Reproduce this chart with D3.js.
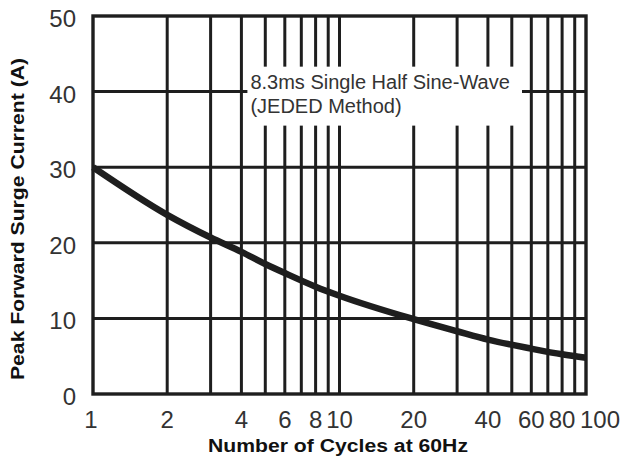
<!DOCTYPE html>
<html>
<head>
<meta charset="utf-8">
<script src="https://cdn.jsdelivr.net/npm/d3@7"></script>
<style>
  body { margin: 0; background: #fff; }
  text { font-family: "Liberation Sans", Arial, sans-serif; }
</style>
</head>
<body>
<div id="chart-area"></div>
<script>
// Data
var cycles  = [1, 2, 3, 4, 5, 6, 8, 10, 20, 30, 40, 60, 80, 100];
var current = [30, 23.7, 20.7, 18.8, 17.2, 16.0, 14.2, 13.0, 9.9, 8.3, 7.2, 6.0, 5.25, 4.8];
var xTickLabels = [1, 2, 4, 6, 8, 10, 20, 40, 60, 80, 100];
var yTickLabels = [0, 10, 20, 30, 40, 50];
var xGrid = [2, 3, 4, 5, 6, 7, 8, 9, 10, 20, 30, 40, 50, 60, 70, 80, 90];

var margin = { left: 93, right: 39, top: 16, bottom: 65 };
var width = 625 - margin.left - margin.right,
    height = 459 - margin.top - margin.bottom;

var svg = d3.select("#chart-area")
    .append("svg")
        .attr("width", 625)
        .attr("height", 459);

var g = svg.append("g")
    .attr("transform", "translate(" + margin.left + "," + margin.top + ")");

// X Scale (log)
var x = d3.scaleLog()
    .domain([1, 100])
    .range([0, width]);

// Y Scale
var y = d3.scaleLinear()
    .domain([0, 50])
    .range([height, 0]);

var ink = "#1e1e1e";

// vertical grid
g.selectAll(".vgrid")
    .data(xGrid)
    .enter().append("line")
        .attr("class", "vgrid")
        .attr("x1", function(d){ return x(d); })
        .attr("x2", function(d){ return x(d); })
        .attr("y1", 0)
        .attr("y2", height)
        .attr("stroke", ink)
        .attr("stroke-width", 3);

// horizontal grid
g.selectAll(".hgrid")
    .data(yTickLabels.slice(1, -1))
    .enter().append("line")
        .attr("class", "hgrid")
        .attr("x1", 0)
        .attr("x2", width)
        .attr("y1", function(d){ return y(d); })
        .attr("y2", function(d){ return y(d); })
        .attr("stroke", ink)
        .attr("stroke-width", 3);

// white box behind the note
g.append("rect")
    .attr("x", x(4) + 6)
    .attr("y", y(43.3))
    .attr("width", x(55) - x(4) - 6)
    .attr("height", y(35.5) - y(43.3))
    .attr("fill", "#fff");

// border
g.append("rect")
    .attr("x", 0)
    .attr("y", 0)
    .attr("width", width)
    .attr("height", height)
    .attr("fill", "none")
    .attr("stroke", ink)
    .attr("stroke-width", 3.4);

// curve
var line = d3.line()
    .x(function(d, i){ return x(cycles[i]); })
    .y(function(d){ return y(d); })
    .curve(d3.curveMonotoneX);

g.append("path")
    .datum(current)
    .attr("d", line)
    .attr("fill", "none")
    .attr("stroke", ink)
    .attr("stroke-width", 6.5);

// note
var note = g.append("text")
    .attr("font-size", "20px")
    .attr("fill", "#333");
note.append("tspan").attr("x", x(4) + 9).attr("y", 73).text("8.3ms Single Half Sine-Wave");
note.append("tspan").attr("x", x(4) + 9).attr("y", 97).text("(JEDED Method)");

// Y tick labels
g.selectAll(".ylab")
    .data(yTickLabels)
    .enter().append("text")
        .attr("class", "ylab")
        .attr("x", -17)
        .attr("y", function(d){ return y(d) + 11; })
        .attr("text-anchor", "end")
        .attr("font-size", "24px")
        .attr("fill", "#333")
        .text(function(d){ return d; });

// X tick labels
g.selectAll(".xlab")
    .data(xTickLabels)
    .enter().append("text")
        .attr("class", "xlab")
        .attr("x", function(d){ return x(d); })
        .attr("dx", function(d){ return d === 100 ? 14 : (d === 1 ? -2 : 0); })
        .attr("y", height + 34)
        .attr("text-anchor", "middle")
        .attr("font-size", "24px")
        .attr("fill", "#333")
        .text(function(d){ return d; });

// X Label
g.append("text")
    .attr("x", 338 - margin.left)
    .attr("y", height + 58)
    .attr("text-anchor", "middle")
    .attr("font-size", "18px")
    .attr("font-weight", "bold")
    .attr("fill", "#111")
    .attr("textLength", 260)
    .attr("lengthAdjust", "spacingAndGlyphs")
    .text("Number of Cycles at 60Hz");

// Y Label
g.append("text")
    .attr("transform", "rotate(-90)")
    .attr("x", -(219 - margin.top))
    .attr("y", 24 - margin.left)
    .attr("text-anchor", "middle")
    .attr("font-size", "18px")
    .attr("font-weight", "bold")
    .attr("fill", "#111")
    .attr("textLength", 322)
    .attr("lengthAdjust", "spacingAndGlyphs")
    .text("Peak Forward Surge Current (A)");
</script>
</body>
</html>
